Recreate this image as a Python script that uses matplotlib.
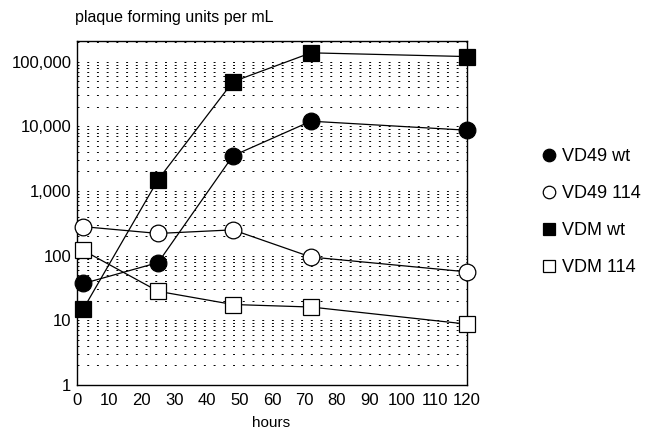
import numpy as np
import matplotlib.pyplot as plt
from matplotlib.ticker import FixedLocator, LogLocator, NullFormatter

plt.rcParams['font.family'] = ['Liberation Sans', 'DejaVu Sans']

# data (hours vs plaque forming units per mL)
hours = [2, 25, 48, 72, 120]
vd49_wt = [37, 78, 3500, 12000, 8700]
vd49_114 = [280, 220, 250, 95, 56]
vdm_wt = [15, 1500, 49000, 137000, 120000]
vdm_114 = [120, 28, 17.5, 16, 8.7]

xticks = [0, 10, 20, 30, 40, 50, 60, 70, 80, 90, 100, 110, 120]
yticks = [1, 10, 100, 1000, 10000, 100000]
ytick_labels = ["1", "10", "100", "1,000", "10,000", "100,000"]

fig = plt.figure(figsize=(6.46, 4.30), dpi=100)
ax = fig.add_axes([0.119, 0.105, 0.604, 0.80])

ax.set_yscale('log')
ax.set_ylim(1, 2.1e5)
ax.set_xlim(0, 120)

# dotted horizontal grid at every log step
ax.yaxis.set_major_locator(FixedLocator(yticks))
ax.yaxis.set_minor_locator(LogLocator(base=10, subs=np.arange(2, 10), numticks=20))
ax.yaxis.set_minor_formatter(NullFormatter())
ax.grid(which='both', axis='y', color='black', linewidth=0.7, linestyle=(0, (2, 8)))
ax.set_axisbelow(True)

series = [
    (vd49_wt, 'o', 'black', "VD49 wt"),
    (vd49_114, 'o', 'white', "VD49 114"),
    (vdm_wt, 's', 'black', "VDM wt"),
    (vdm_114, 's', 'white', "VDM 114"),
]
handles = []
for vals, mk, fc, lab in series:
    ln, = ax.plot(hours, vals, color='black', linewidth=0.9, marker=mk, markersize=12,
                  markerfacecolor=fc, markeredgecolor='black', markeredgewidth=0.9,
                  label=lab, clip_on=False, zorder=3)
    handles.append(ln)

ax.set_xticks(xticks)
ax.set_xticklabels([str(x) for x in xticks])
ax.set_yticks(yticks)
ax.set_yticklabels(ytick_labels)
ax.tick_params(which='both', length=0, labelsize=12)
ax.tick_params(axis='x', pad=6)
ax.tick_params(axis='y', pad=4)

for s in ax.spines.values():
    s.set_linewidth(1.0)

fig.text(0.116, 0.943, "plaque forming units per mL", fontsize=11.5, ha='left', va='bottom')
fig.text(0.42, 0.0, "hours", fontsize=11, ha='center', va='bottom')

leg = fig.legend(handles=handles, loc='upper left', bbox_to_anchor=(0.828, 0.672),
                 frameon=False, handlelength=0.8, handletextpad=0.3, labelspacing=1.1,
                 markerscale=0.75, fontsize=13, borderaxespad=0)
for h in leg.legend_handles:
    h.set_linestyle('None')

fig.savefig("out.png", dpi=100)
